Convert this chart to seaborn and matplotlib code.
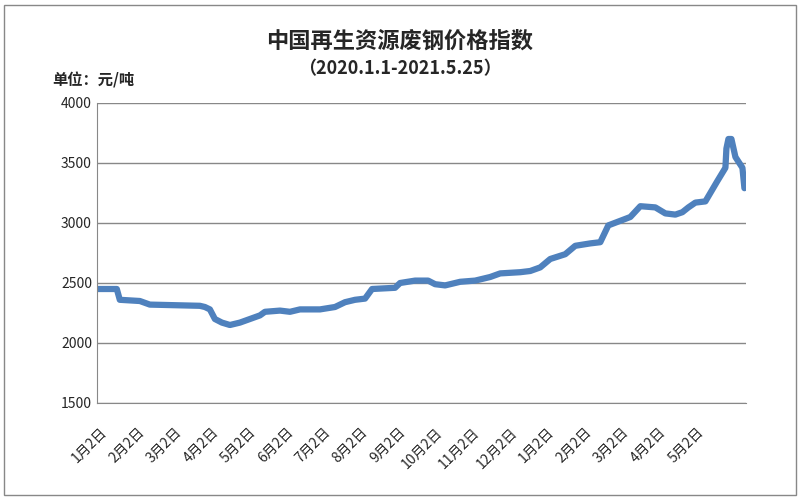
import matplotlib
matplotlib.use("Agg")
import matplotlib.pyplot as plt
import seaborn as sns
import pandas as pd

sns.set_style("white")
plt.rcParams['font.family'] = ['Noto Sans CJK SC', 'DejaVu Sans']

px = [97,117,120,140,150,200,205,210,215,222,230,240,250,260,265,280,290,300,320,335,345,355,365,372,395,400,415,428,435,445,460,475,490,500,520,530,540,550,565,575,590,600,608,630,640,655,665,675,682,688,695,705,717,725,726,728,731,735,742,744]
values = [2450,2450,2360,2350,2320,2310,2300,2280,2200,2170,2150,2170,2200,2230,2260,2270,2260,2280,2280,2300,2340,2360,2370,2450,2460,2500,2520,2520,2490,2480,2510,2520,2550,2580,2590,2600,2630,2700,2740,2810,2830,2840,2980,3050,3140,3130,3080,3070,3090,3130,3170,3180,3350,3460,3620,3700,3700,3550,3460,3290]
xpos = [(p - 100) / 37.25 for p in px]
tick_labels = ["1月2日","2月2日","3月2日","4月2日","5月2日","6月2日","7月2日","8月2日","9月2日","10月2日","11月2日","12月2日","1月2日","2月2日","3月2日","4月2日","5月2日"]

df = pd.DataFrame({"x": xpos, "v": values})
fig = plt.figure(figsize=(8, 5), dpi=100)
ax = fig.add_axes([0.121, 0.194, 0.811, 0.6])
sns.lineplot(data=df, x="x", y="v", ax=ax, color="#4F81BD", lw=4.5, solid_capstyle="round", solid_joinstyle="round")
ax.set_xlim(-0.08, 17.32)
ax.set_ylim(1500, 4000)
ax.set_yticks(range(1500, 4001, 500))
ax.yaxis.grid(True, color="#888888", lw=1)
ax.set_xticks(range(17))
ax.set_xticklabels(tick_labels, rotation=45, ha="right", rotation_mode="anchor", fontsize=10)
ax.tick_params(axis="y", labelsize=10, length=0)
ax.tick_params(axis="x", length=0, pad=16)
ax.set_xlabel(""); ax.set_ylabel("")
for s in ["top", "right"]:
    ax.spines[s].set_visible(False)
for s in ["left", "bottom"]:
    ax.spines[s].set_color("#888888")
fig.text(0.5, 0.905, "中国再生资源废钢价格指数", ha="center", fontsize=16, fontweight="bold")
fig.text(0.5, 0.852, "（2020.1.1-2021.5.25）", ha="center", fontsize=13, fontweight="bold")
fig.text(0.065, 0.83, "单位：元/吨", fontsize=11, fontweight="bold")
fig.patches.append(plt.Rectangle((0.005, 0.01), 0.99, 0.98, fill=False, ec="#888888", lw=1, transform=fig.transFigure))
fig.savefig("out.png")
